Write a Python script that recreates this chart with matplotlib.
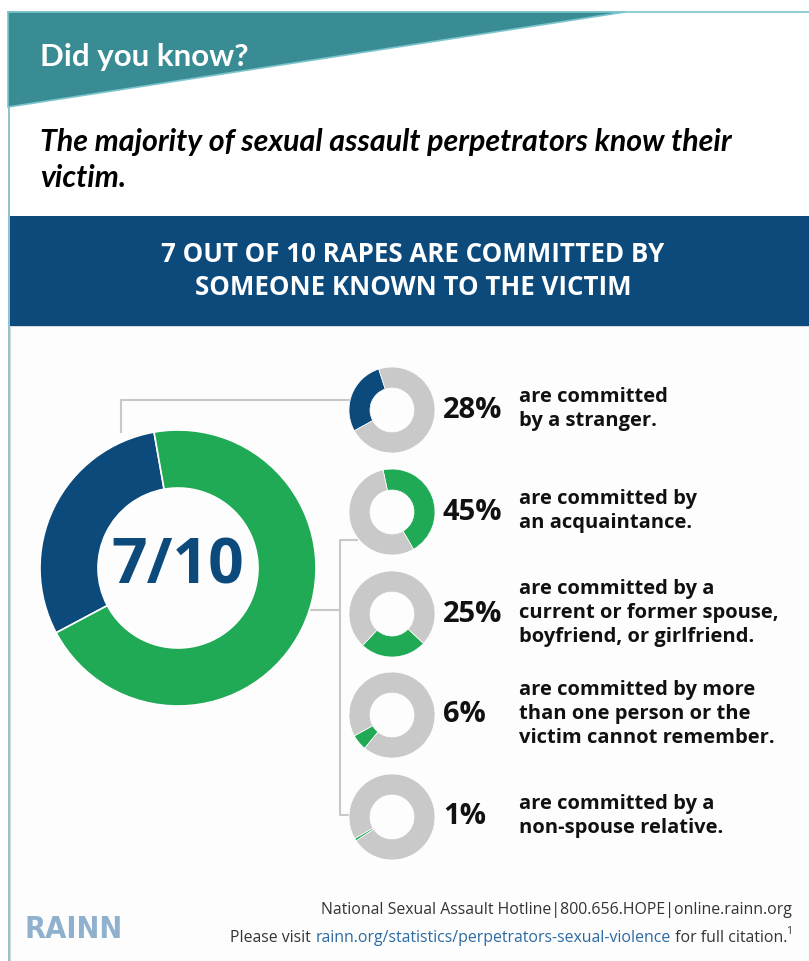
import matplotlib
matplotlib.use('Agg')
import matplotlib.pyplot as plt
from matplotlib.patches import Polygon, Rectangle

# chart values
big_share = [3, 7]                # stranger vs known, out of 10
big_label = '7/10'
pcts = [28, 45, 25, 6, 1]
descs = [
    'are committed\nby a stranger.',
    'are committed by\nan acquaintance.',
    'are committed by a\ncurrent or former spouse,\nboyfriend, or girlfriend.',
    'are committed by more\nthan one person or the\nvictim cannot remember.',
    'are committed by a\nnon-spouse relative.',
]
title = 'Did you know?'
subtitle = 'The majority of sexual assault perpetrators know their\nvictim.'
banner = '7 OUT OF 10 RAPES ARE COMMITTED BY\nSOMEONE KNOWN TO THE VICTIM'

# layout / style
W, H = 809, 961
BLUE = '#0c4a7c'
GREEN = '#20aa55'
GRAY = '#c9c9c9'
TEAL = '#3a8c94'
row_y = [410, 512, 614, 715, 817]
starts = [108, 102, 227, 209, 210]
ccw = [True, False, True, True, True]
hi_colors = [BLUE, GREEN, GREEN, GREEN, GREEN]


def Y(py):
    return H - py


fig = plt.figure(figsize=(W / 100, H / 100), dpi=100)
ax = fig.add_axes([0, 0, 1, 1])

# header triangle
ax.add_patch(Polygon([(8, Y(12)), (625, Y(12)), (8, Y(107))], closed=True,
                     facecolor=TEAL, edgecolor='#7cc4cc', lw=1.2, zorder=2))
ax.plot([8, W], [Y(12), Y(12)], color='#7cc4cc', lw=1.2, zorder=1)
ax.plot([9, 9], [Y(12), Y(H)], color='#7cb8c8', lw=1.2, zorder=1)
ax.text(40, Y(57), title, color='white', fontsize=22.5, fontweight='bold',
        family='Lato', va='center', ha='left', zorder=3)
ax.text(40, Y(160), subtitle, color='black', fontsize=21.9, fontweight='bold',
        style='italic', family='Lato', va='center', ha='left',
        linespacing=1.33, zorder=3)

# banner
ax.add_patch(Rectangle((10, Y(326)), W - 10, 110, facecolor=BLUE,
                       edgecolor='none', zorder=2))
ax.add_patch(Rectangle((10, Y(H)), W - 10, H - 326, facecolor='#fdfdfd',
                       edgecolor='#d8d8d8', lw=0.8, zorder=0))
ax.text(413, Y(271), banner, color='white', fontsize=18.6, fontweight='bold',
        family='Open Sans', ha='center', va='center', linespacing=1.25,
        zorder=3)

# connector lines
lc = dict(color='#c8c8c8', lw=1.5, zorder=1, solid_capstyle='butt')
ax.plot([121, 121, 350], [Y(433), Y(400), Y(400)], **lc)
ax.plot([305, 340], [Y(610), Y(610)], **lc)
ax.plot([358, 340, 340, 352], [Y(540), Y(540), Y(815), Y(815)], **lc)

# big donut
ax.pie(big_share, colors=[BLUE, GREEN], startangle=100, counterclock=True,
       center=(178, Y(568)), radius=138, frame=True,
       wedgeprops=dict(width=58, edgecolor='white', linewidth=1.2))
ax.text(178, Y(567), big_label, color=BLUE, fontsize=45, fontweight='bold',
        family='Open Sans', ha='center', va='center', zorder=4)

# small donuts
for i, p in enumerate(pcts):
    ax.pie([p, 100 - p], colors=[hi_colors[i], GRAY], startangle=starts[i],
           counterclock=ccw[i], center=(392, Y(row_y[i])), radius=43,
           frame=True,
           wedgeprops=dict(width=21, edgecolor='white', linewidth=0.5))
    ax.text(443, Y(row_y[i]), f'{p}%', color='#111111', fontsize=21,
            fontweight='bold', family='Open Sans', ha='left', va='center')
    ax.text(519, Y(row_y[i] - 1), descs[i], color='#111111', fontsize=14.5,
            fontweight='bold', family='Open Sans', ha='left', va='center',
            linespacing=1.24)

# footer
ax.text(25, Y(930), 'RAINN', color='#8fb1cd', fontsize=22, fontweight='bold',
        family='DejaVu Sans', fontstretch='condensed', ha='left',
        va='center')
fc = dict(fontsize=11.4, family='Open Sans', va='center', ha='right')
ax.text(792, Y(910), 'National Sexual Assault Hotline|800.656.HOPE|online.rainn.org',
        color='#333333', **fc)

ax.set_xlim(0, W)
ax.set_ylim(0, H)
ax.axis('off')

fig.canvas.draw()
r = fig.canvas.get_renderer()
x = 792
sup = ax.text(x, Y(931), '1', color='#333333', fontsize=7.5,
              family='Open Sans', va='center', ha='right')
x -= sup.get_window_extent(r).width - 1
parts = [(' for full citation.', '#333333'),
         ('rainn.org/statistics/perpetrators-sexual-violence', '#2b6aa3'),
         ('Please visit ', '#333333')]
for s, c in parts:
    t = ax.text(x, Y(938), s, color=c, **fc)
    x -= t.get_window_extent(r).width

fig.savefig('out.png', dpi=100)
